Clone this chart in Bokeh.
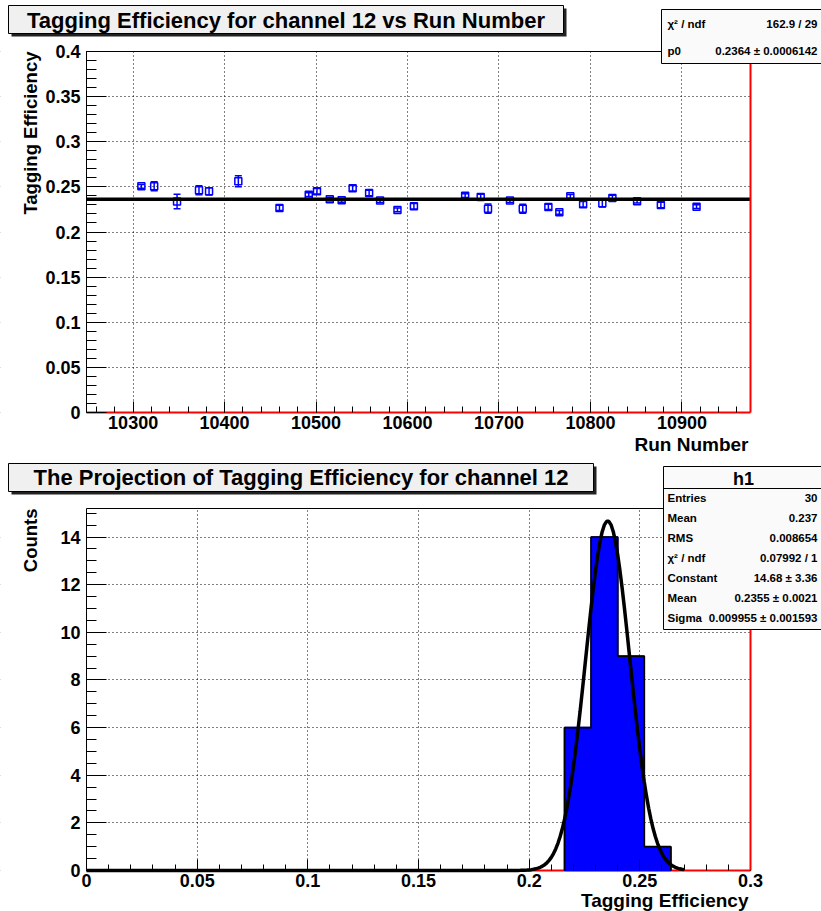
import math
import numpy as np
from bokeh.plotting import figure
from bokeh.layouts import column
from bokeh.models import (Range1d, FixedTicker, CustomJSTickFormatter, Label, BoxAnnotation,
                          Whisker, TeeHead, ColumnDataSource)
from bokeh.embed import file_html
from bokeh.resources import INLINE

# ---------------- data: tagging efficiency vs run number ----------------
run_number = [10309, 10323, 10348, 10372, 10383, 10415, 10460, 10492, 10501, 10515,
              10528, 10540, 10558, 10570, 10589, 10607, 10663, 10680, 10688, 10712,
              10726, 10754, 10766, 10778, 10792, 10813, 10824, 10851, 10877, 10916]
tag_eff = [0.2506, 0.2506, 0.2337, 0.2462, 0.2451, 0.2562, 0.2267, 0.2414, 0.2451, 0.2364,
           0.2351, 0.2484, 0.2433, 0.2348, 0.2245, 0.2285, 0.2403, 0.2388, 0.2259, 0.2348,
           0.2258, 0.2278, 0.2218, 0.2395, 0.2307, 0.2318, 0.2378, 0.2340, 0.2300, 0.2281]
tag_eff_err = [0.002, 0.005, 0.008, 0.005, 0.004, 0.006, 0.003, 0.002, 0.003, 0.002,
               0.002, 0.003, 0.003, 0.002, 0.002, 0.003, 0.002, 0.003, 0.005, 0.002,
               0.005, 0.003, 0.002, 0.002, 0.003, 0.004, 0.003, 0.002, 0.003, 0.002]
fit_p0 = 0.2364

# ---------------- data: projection histogram ----------------
bin_lo = [0.216, 0.228, 0.240, 0.252]
bin_hi = [0.228, 0.240, 0.252, 0.264]
counts = [6, 14, 9, 1]
gaus_const, gaus_mean, gaus_sigma = 14.68, 0.2355, 0.009955
fit_range = (0.0, 0.27)

# ---------------- axes / ticks ----------------
x1_range = (10249, 10975)
y1_range = (0.0, 0.4)
x1_ticks = [10300, 10400, 10500, 10600, 10700, 10800, 10900]
y1_ticks = [0, 0.05, 0.1, 0.15, 0.2, 0.25, 0.3, 0.35, 0.4]
x2_range = (0.0, 0.3)
y2_range = (0.0, 15.2)
x2_ticks = [0, 0.05, 0.1, 0.15, 0.2, 0.25, 0.3]
y2_ticks = [0, 2, 4, 6, 8, 10, 12, 14]

# ---------------- texts ----------------
title1 = "Tagging Efficiency for channel 12 vs Run Number"
title2 = "The Projection of Tagging Efficiency for channel 12"
xlabel1, ylabel1 = "Run Number", "Tagging Efficiency"
xlabel2, ylabel2 = "Tagging Efficiency", "Counts"
stats1_names = ["χ² / ndf", "p0"]
stats1_values = ["162.9 / 29", "0.2364 ± 0.0006142"]
stats2_header = "h1"
stats2_names = ["Entries", "Mean", "RMS", "χ² / ndf", "Constant", "Mean", "Sigma"]
stats2_values = ["30", "0.237", "0.008654", "0.07992 / 1", "14.68 ± 3.36", "0.2355 ± 0.0021",
                 "0.009955 ± 0.001593"]

FONT = "Liberation Sans"
W = 821
H1, H2 = 456, 455
L, R = 86, 750          # plot box, canvas pixels
T1, B1 = 51, 412
T2, B2 = 52, 414


def mapper(xr, yr, top, bottom):
    def fx(px):
        return xr[0] + (px - L) / (R - L) * (xr[1] - xr[0])

    def fy(py):
        return yr[0] + (bottom - py) / (bottom - top) * (yr[1] - yr[0])
    return fx, fy


fmt = CustomJSTickFormatter(code="return tick.toFixed(3).replace(/\\.?0+$/, '');")


def make_fig(h, xr, yr, top, bottom, xticker, yticker):
    fx, fy = mapper(xr, yr, top, bottom)
    p = figure(width=W, height=h, x_range=Range1d(fx(0), fx(W)), y_range=Range1d(fy(h), fy(0)),
               output_backend="svg", toolbar_location=None, title=None,
               min_border_left=0, min_border_right=0, min_border_top=0, min_border_bottom=0)
    p.outline_line_color = None
    p.background_fill_color = "white"
    p.border_fill_color = "white"
    xa, ya = p.xaxis[0], p.yaxis[0]
    xa.fixed_location = yr[0]
    ya.fixed_location = xr[0]
    xa.bounds = xr
    ya.bounds = yr
    xa.ticker = xticker
    ya.ticker = yticker
    p.xgrid[0].ticker = xticker
    p.ygrid[0].ticker = yticker
    for ax in (xa, ya):
        ax.major_label_text_font = FONT
        ax.major_label_text_font_size = "18px"
        ax.major_label_text_font_style = "bold"
        ax.major_label_text_color = "black"
        ax.major_tick_out = 0
        ax.minor_tick_out = 0
        ax.major_tick_line_color = "black"
        ax.minor_tick_line_color = "black"
        ax.axis_line_color = "black"
        ax.formatter = fmt
    xa.major_tick_in = 11
    xa.minor_tick_in = 6
    ya.major_tick_in = 20
    ya.minor_tick_in = 10
    xa.major_label_standoff = 3
    ya.major_label_standoff = 6
    for g in (p.xgrid[0], p.ygrid[0]):
        g.grid_line_color = "black"
        g.grid_line_dash = "1 3"
        g.grid_line_width = 1
    # white masks hiding grid lines outside the plot box (drawn just above the grid)
    for (x0, x1, y0, y1) in [(-5, W + 5, -5, top - 0.5), (-5, W + 5, bottom + 0.5, h + 5),
                             (-5, L - 0.5, -5, h + 5), (R + 0.5, W + 5, -5, h + 5)]:
        p.add_layout(BoxAnnotation(left=fx(x0), right=fx(x1), top=fy(y0), bottom=fy(y1),
                                   fill_color="white", fill_alpha=1, line_color=None,
                                   level="underlay"))
    return p, fx, fy


def add_box(p, fx, fy, x0, x1, y0, y1, fill, line="black", shadow=0, level="annotation"):
    if shadow:
        p.add_layout(BoxAnnotation(left=fx(x0 + shadow), right=fx(x1 + shadow),
                                   top=fy(y0 + shadow), bottom=fy(y1 + shadow),
                                   fill_color="#222222", fill_alpha=1, line_color=None))
    p.add_layout(BoxAnnotation(left=fx(x0), right=fx(x1), top=fy(y0), bottom=fy(y1),
                               fill_color=fill, fill_alpha=1, line_color=line,
                               line_alpha=1, line_width=1, level=level))


def add_text(p, fx, fy, px, py, text, size, align="left", angle=0.0):
    p.add_layout(Label(x=fx(px), y=fy(py), text=text, text_font=FONT, text_font_size=size,
                       text_font_style="bold", text_color="black", text_align=align,
                       text_baseline="middle", angle=angle))


# ================= top plot =================
t1 = FixedTicker(ticks=x1_ticks, minor_ticks=list(np.arange(10260, 10975, 20)))
u1 = FixedTicker(ticks=y1_ticks, minor_ticks=list(np.round(np.arange(0, 0.401, 0.01), 3)))
p1, fx1, fy1 = make_fig(H1, x1_range, y1_range, T1, B1, t1, u1)
p1.xaxis[0].axis_line_color = "red"
p1.xaxis[0].axis_line_width = 2

src = ColumnDataSource(dict(x=run_number, y=tag_eff,
                            lo=[v - e for v, e in zip(tag_eff, tag_eff_err)],
                            hi=[v + e for v, e in zip(tag_eff, tag_eff_err)]))
p1.scatter("x", "y", source=src, marker="square", size=7, fill_alpha=0,
           line_color="#0000ff", line_width=1.5)
p1.add_layout(Whisker(base="x", lower="lo", upper="hi", source=src, dimension="height",
                      line_color="#0000ff", line_width=1.5,
                      lower_head=TeeHead(size=7, line_color="#0000ff", line_width=1.5),
                      upper_head=TeeHead(size=7, line_color="#0000ff", line_width=1.5)))
p1.line(list(x1_range), [fit_p0, fit_p0], line_color="black", line_width=3.5)

# frame edges: top black, right red
add_box(p1, fx1, fy1, L, R, T1 - 0.5, T1 + 0.5, "black", line=None)
add_box(p1, fx1, fy1, R - 1, R + 1, T1, B1, "red", line=None)

# title box
add_box(p1, fx1, fy1, 8, 563, 5, 33, "#f0f0f0", shadow=3)
add_text(p1, fx1, fy1, 285.5, 19.5, title1, "22px", align="center")
# axis titles
add_text(p1, fx1, fy1, 748, 444, xlabel1, "19px", align="right")
add_text(p1, fx1, fy1, 30, 51, ylabel1, "18.5px", align="right", angle=math.pi / 2)
# stats box
add_box(p1, fx1, fy1, 661, 840, 9, 63, "#fafafa")
for i, (n, v) in enumerate(zip(stats1_names, stats1_values)):
    yy = 23 + i * 27
    add_text(p1, fx1, fy1, 667, yy, n, "11.5px")
    add_text(p1, fx1, fy1, 817, yy, v, "11.5px", align="right")

# ================= bottom plot =================
t2 = FixedTicker(ticks=x2_ticks, minor_ticks=list(np.round(np.arange(0, 0.3001, 0.01), 3)))
u2 = FixedTicker(ticks=y2_ticks, minor_ticks=list(np.arange(0, 15.2, 0.5)))
p2, fx2, fy2 = make_fig(H2, x2_range, y2_range, T2, B2, t2, u2)
p2.xaxis[0].axis_line_color = None

# red baseline underneath the histogram and fit curve
add_box(p2, fx2, fy2, L, R, B2 - 1, B2 + 1, "red", line=None, level="underlay")

# histogram: filled bins without inner dividers, black step outline
p2.quad(left=bin_lo, right=bin_hi, bottom=0, top=counts, fill_color="#0000ff",
        line_color="#0000ff", line_width=1.5)
edges = bin_lo + [bin_hi[-1]]
p2.step(x=[edges[0]] + edges, y=[0] + counts + [0], mode="after",
        line_color="black", line_width=1.8)
gx = np.linspace(fit_range[0], fit_range[1], 271)
gy = gaus_const * np.exp(-0.5 * ((gx - gaus_mean) / gaus_sigma) ** 2)
p2.line(gx, gy, line_color="black", line_width=3.5)

add_box(p2, fx2, fy2, L, R, T2 - 0.5, T2 + 0.5, "black", line=None)
add_box(p2, fx2, fy2, R - 1, R + 1, T2, B2, "red", line=None)

add_box(p2, fx2, fy2, 8, 593, 7, 35, "#f0f0f0", shadow=3)
add_text(p2, fx2, fy2, 300.5, 21, title2, "22px", align="center")
add_text(p2, fx2, fy2, 748, 444, xlabel2, "19px", align="right")
add_text(p2, fx2, fy2, 30, 52, ylabel2, "18.5px", align="right", angle=math.pi / 2)

add_box(p2, fx2, fy2, 663, 840, 10, 173, "#fafafa")
add_box(p2, fx2, fy2, 663, 840, 31.5, 32.5, "black", line=None)
add_text(p2, fx2, fy2, 743, 22, stats2_header, "18px", align="center")
for i, (n, v) in enumerate(zip(stats2_names, stats2_values)):
    yy = 41.3 + i * 20.1
    add_text(p2, fx2, fy2, 667, yy, n, "11.5px")
    add_text(p2, fx2, fy2, 817, yy, v, "11.5px", align="right")

layout = column(p1, p2, spacing=0)
open("out.html", "w").write(file_html(layout, INLINE))
